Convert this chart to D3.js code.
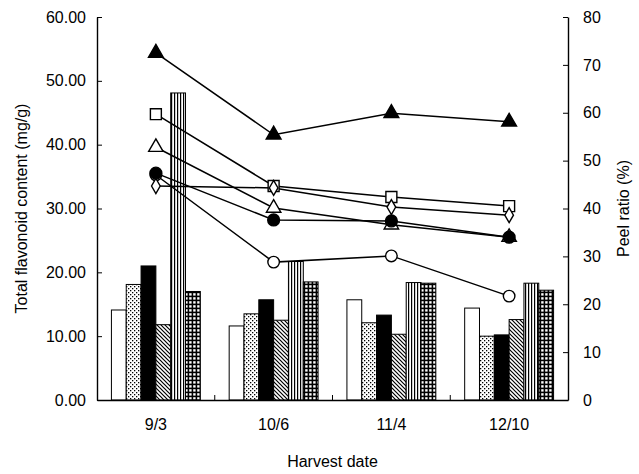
<!DOCTYPE html>
<html>
<head>
<meta charset="utf-8">
<script src="https://cdn.jsdelivr.net/npm/d3@7"></script>
<style>
  body { margin: 0; background: #fff; }
  text { font-family: "Liberation Sans", Arial, sans-serif; fill: #000; }
</style>
</head>
<body>
<div id="chart"></div>
<script>
const dates = ['9/3', '10/6', '11/4', '12/10'];

// bars - total flavonoid content (mg/g), left axis
const barWhite  = [14.1, 11.6, 15.7, 14.4];
const barDots   = [18.1, 13.5, 12.1, 10.0];
const barBlack  = [21.0, 15.7, 13.3, 10.2];
const barHatch  = [11.8, 12.5, 10.3, 12.6];
const barVert   = [48.1, 21.7, 18.4, 18.3];
const barGrid   = [17.0, 18.5, 18.3, 17.2];

// lines - peel ratio (%), right axis
const peelFilledTri = [72.5, 55.4, 59.9, 58.1];
const peelSquare    = [59.7, 44.7, 42.4, 40.5];
const peelOpenTri   = [52.8, 40.1, 36.6, 34.0];
const peelOpenCirc  = [47.0, 28.8, 30.1, 21.7];
const peelFilledCirc= [47.4, 37.6, 37.4, 34.0];
const peelDiamond   = [44.7, 44.3, 40.3, 38.6];

const leftTicks  = [0, 10, 20, 30, 40, 50, 60];
const rightTicks = [0, 10, 20, 30, 40, 50, 60, 70, 80];

const W = 639, H = 474;
const plot = { left: 97, right: 568, top: 17, bottom: 400 };

const svg = d3.select('#chart').append('svg')
  .attr('width', W).attr('height', H);

// fill patterns
const defs = svg.append('defs');
const pDots = defs.append('pattern').attr('id', 'dots')
  .attr('patternUnits', 'userSpaceOnUse').attr('width', 4).attr('height', 4);
pDots.append('rect').attr('width', 4).attr('height', 4).attr('fill', '#fff');
pDots.append('rect').attr('x', 0).attr('y', 0).attr('width', 1.3).attr('height', 1.3).attr('fill', '#000');
pDots.append('rect').attr('x', 2).attr('y', 2).attr('width', 1.3).attr('height', 1.3).attr('fill', '#000');

const pHatch = defs.append('pattern').attr('id', 'hatch')
  .attr('patternUnits', 'userSpaceOnUse').attr('width', 4).attr('height', 4);
pHatch.append('rect').attr('width', 4).attr('height', 4).attr('fill', '#fff');
pHatch.append('path').attr('d', 'M-1,-1 L5,5 M-1,3 L1,5 M3,-1 L5,1')
  .attr('stroke', '#000').attr('stroke-width', 1.2);

const pVert = defs.append('pattern').attr('id', 'vert')
  .attr('patternUnits', 'userSpaceOnUse').attr('width', 3).attr('height', 4);
pVert.append('rect').attr('width', 3).attr('height', 4).attr('fill', '#fff');
pVert.append('rect').attr('x', 0).attr('width', 1.2).attr('height', 4).attr('fill', '#000');

const pGrid = defs.append('pattern').attr('id', 'grid')
  .attr('patternUnits', 'userSpaceOnUse').attr('width', 4).attr('height', 4);
pGrid.append('rect').attr('width', 4).attr('height', 4).attr('fill', '#000');
pGrid.append('rect').attr('x', 1.2).attr('y', 1.2).attr('width', 2.4).attr('height', 2.4).attr('fill', '#fff');

const barSeries = [
  { values: barWhite, fill: '#fff' },
  { values: barDots,  fill: 'url(#dots)' },
  { values: barBlack, fill: '#000' },
  { values: barHatch, fill: 'url(#hatch)' },
  { values: barVert,  fill: 'url(#vert)' },
  { values: barGrid,  fill: 'url(#grid)' }
];

const x = d3.scaleBand().domain(dates)
  .range([plot.left, plot.right])
  .paddingInner(0.245).paddingOuter(0.1225);
const xInner = d3.scaleBand().domain(d3.range(barSeries.length))
  .range([0, x.bandwidth()]);
const yLeft = d3.scaleLinear().domain([0, 60]).range([plot.bottom, plot.top]);
const yRight = d3.scaleLinear().domain([0, 80]).range([plot.bottom, plot.top]);

// bars
barSeries.forEach((s, si) => {
  svg.append('g').selectAll('rect')
    .data(s.values)
    .enter().append('rect')
    .attr('x', (d, i) => x(dates[i]) + xInner(si))
    .attr('y', d => yLeft(d))
    .attr('width', xInner.bandwidth())
    .attr('height', d => yLeft(0) - yLeft(d))
    .attr('fill', s.fill)
    .attr('stroke', '#000')
    .attr('stroke-width', 1);
});

// axes
const leftAxis = d3.axisLeft(yLeft).tickValues(leftTicks)
  .tickFormat(d3.format('.2f')).tickSizeInner(-5).tickSizeOuter(0).tickPadding(11);
svg.append('g').attr('transform', 'translate(' + plot.left + ',0)').call(leftAxis)
  .call(g => g.selectAll('text').style('font-size', '16px'));

const rightAxis = d3.axisRight(yRight).tickValues(rightTicks)
  .tickSizeInner(-5).tickSizeOuter(0).tickPadding(15);
svg.append('g').attr('transform', 'translate(' + plot.right + ',0)').call(rightAxis)
  .call(g => g.selectAll('text').style('font-size', '16px'));

const bottomAxis = d3.axisBottom(x).tickSize(0).tickPadding(19);
svg.append('g').attr('transform', 'translate(0,' + plot.bottom + ')').call(bottomAxis)
  .call(g => g.selectAll('text').style('font-size', '16px'));

// category separator ticks (inward)
const sep = dates.slice(1).map(d => x(d) - x.step() * x.paddingInner() / 2);
svg.append('g').selectAll('line').data(sep).enter().append('line')
  .attr('x1', d => d).attr('x2', d => d)
  .attr('y1', plot.bottom).attr('y2', plot.bottom - 5)
  .attr('stroke', '#000');

svg.selectAll('.domain').attr('stroke', '#000').attr('stroke-width', 1.4);

// lines
const cx = d => x(d) + x.bandwidth() / 2;
const lineSeries = [
  { values: peelFilledTri, shape: d3.symbolTriangle, fill: '#000', size: 95 },
  { values: peelSquare,    shape: d3.symbolSquare,   fill: '#fff', size: 120 },
  { values: peelOpenTri,   shape: d3.symbolTriangle, fill: '#fff', size: 90 },
  { values: peelOpenCirc,  shape: d3.symbolCircle,   fill: '#fff', size: 105 },
  { values: peelFilledCirc,shape: d3.symbolCircle,   fill: '#000', size: 110 },
  { values: peelDiamond,   shape: d3.symbolDiamond,  fill: '#fff', size: 65 }
];

const line = d3.line().x((d, i) => cx(dates[i])).y(d => yRight(d));
lineSeries.forEach(s => {
  svg.append('path').datum(s.values)
    .attr('d', line)
    .attr('fill', 'none')
    .attr('stroke', '#000')
    .attr('stroke-width', 1.5);
});
lineSeries.forEach(s => {
  svg.append('g').selectAll('path')
    .data(s.values)
    .enter().append('path')
    .attr('d', d3.symbol().type(s.shape).size(s.size))
    .attr('transform', (d, i) => 'translate(' + cx(dates[i]) + ',' + yRight(d) + ')')
    .attr('fill', s.fill)
    .attr('stroke', '#000')
    .attr('stroke-width', 1.4);
});

// titles
svg.append('text')
  .attr('transform', 'translate(27,' + (plot.top + plot.bottom) / 2 + ') rotate(-90)')
  .attr('text-anchor', 'middle')
  .style('font-size', '16px')
  .text('Total flavonoid content (mg/g)');

svg.append('text')
  .attr('transform', 'translate(629,' + (plot.top + plot.bottom) / 2 + ') rotate(-90)')
  .attr('text-anchor', 'middle')
  .style('font-size', '16px')
  .text('Peel ratio (%)');

svg.append('text')
  .attr('x', (plot.left + plot.right) / 2)
  .attr('y', 467)
  .attr('text-anchor', 'middle')
  .style('font-size', '16px')
  .text('Harvest date');
</script>
</body>
</html>
